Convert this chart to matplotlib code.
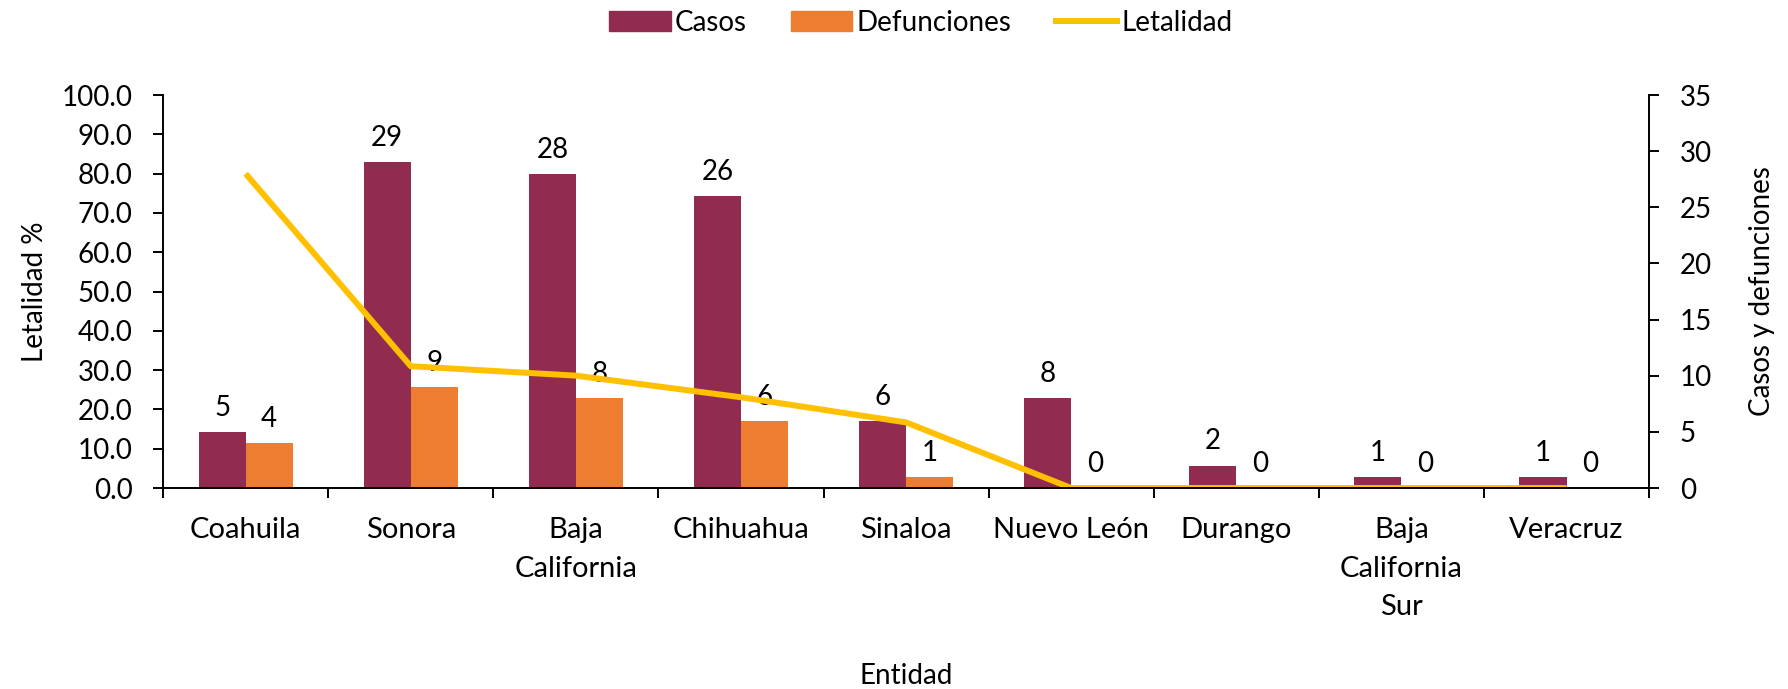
import numpy as np
import matplotlib
matplotlib.use('Agg')
import matplotlib.pyplot as plt
from matplotlib.patches import Patch
from matplotlib.lines import Line2D
from matplotlib.ticker import FormatStrFormatter, MultipleLocator

# Données
entidades = ['Coahuila', 'Sonora', 'Baja\nCalifornia', 'Chihuahua', 'Sinaloa',
             'Nuevo León', 'Durango', 'Baja\nCalifornia\nSur', 'Veracruz']
casos = [5, 29, 28, 26, 6, 8, 2, 1, 1]
defunciones = [4, 9, 8, 6, 1, 0, 0, 0, 0]
letalidad = [80.0, 31.0, 28.6, 23.1, 16.7, 0.0, 0.0, 0.0, 0.0]

c_casos = '#922B50'
c_def = '#ED7D31'
c_let = '#FFC000'

plt.rcParams['font.family'] = ['Lato', 'DejaVu Sans']
plt.rcParams['font.size'] = 20

fig = plt.figure(figsize=(17.88, 6.89), dpi=100)
ax = fig.add_axes([0.0912, 0.2917, 0.8311, 0.5703])
ax2 = ax.twinx()

x = np.arange(len(entidades))
w = 0.285

# barres sur l'axe de droite
b1 = ax2.bar(x - w / 2, casos, width=w, color=c_casos)
b2 = ax2.bar(x + w / 2, defunciones, width=w, color=c_def)
ax2.bar_label(b1, padding=8, fontsize=20)
ax2.bar_label(b2, padding=8, fontsize=20)

# ligne sur l'axe de gauche
ax.plot(x, letalidad, color=c_let, linewidth=4.3, solid_capstyle='butt')

# l'axe gauche au-dessus
ax.set_zorder(ax2.get_zorder() + 1)
ax.patch.set_visible(False)

ax.set_xlim(-0.5, len(entidades) - 0.5)
ax.set_ylim(0, 100)
ax2.set_ylim(0, 35)
ax.yaxis.set_major_locator(MultipleLocator(10))
ax.yaxis.set_major_formatter(FormatStrFormatter('%.1f'))
ax2.yaxis.set_major_locator(MultipleLocator(5))

# ticks x : traits entre catégories, étiquettes au centre
ax.set_xticks(np.arange(len(entidades) + 1) - 0.5)
ax.set_xticklabels([])
ax.set_xticks(x, minor=True)
ax.set_xticklabels(entidades, minor=True, fontsize=21, linespacing=1.6)
ax.tick_params(axis='x', which='major', direction='out', length=7, width=1.4)
ax.tick_params(axis='x', which='minor', length=0, pad=21)
ax.tick_params(axis='y', direction='out', length=7, width=1.4, pad=15)
ax2.tick_params(axis='y', direction='out', length=7, width=1.4, pad=15)

for a in (ax, ax2):
    a.spines['top'].set_visible(False)
    for s in a.spines.values():
        s.set_linewidth(1.4)
ax.spines['right'].set_visible(False)
ax2.spines['left'].set_visible(False)
ax2.spines['bottom'].set_visible(False)

ax.set_ylabel('Letalidad %', labelpad=10)
ax2.set_ylabel('Casos y defunciones', labelpad=27)
ax.set_xlabel('Entidad', labelpad=31)

handles = [Patch(color=c_casos), Patch(color=c_def),
           Line2D([], [], color=c_let, linewidth=4.3)]
fig.legend(handles, ['Casos', 'Defunciones', 'Letalidad'], loc='center',
           bbox_to_anchor=(0.515, 0.967), ncol=3, frameon=False,
           handlelength=2.2, handletextpad=0.15, columnspacing=1.6)

fig.savefig('out.png', dpi=100)
